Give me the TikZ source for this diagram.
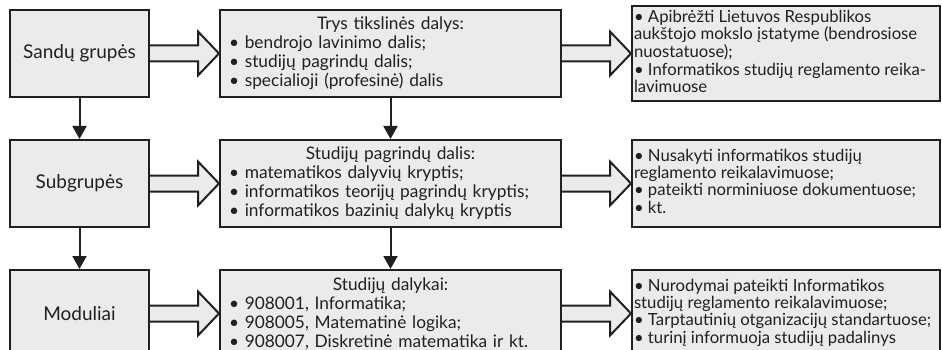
\documentclass[tikz,border=0pt]{standalone}
\usepackage{fontspec}
\setmainfont{Lato}
\usetikzlibrary{positioning,calc,arrows.meta}
\definecolor{boxfill}{HTML}{EBEBEB}
\definecolor{ink}{HTML}{231F20}
\newcommand{\parthead}[1]{\makebox[\linewidth]{#1}}
% note text: lines kept unbroken, set flush left, raised by #1
\newcommand{\notelines}[2][0pt]{\raisebox{#1}{\makebox[304pt][l]{%
			\begin{tabular}{@{}l@{}}#2\end{tabular}}}}

\begin{document}
\begin{tikzpicture}[
		x = 1pt, y = -1pt,
		> = {Triangle[length=13pt,width=14pt]}, % arrow head style
		line width = 2pt,
		color = ink,
		node distance = 41pt and 69pt, % rows and columns
		grp/.style = {draw, fill=boxfill, minimum width=139pt, minimum height=87pt,
			inner sep=0pt, font=\fontsize{19}{23}\selectfont},
		part/.style = {draw, fill=boxfill, text width=323pt, inner xsep=9pt,
			minimum height=87pt, align=left, font=\fontsize{17.3}{19}\selectfont},
		note/.style = {draw, fill=boxfill, minimum width=308pt, inner xsep=2pt,
			minimum height=87pt, font=\fontsize{16.7}{16.5}\selectfont},
		blockarrow/.style = {fill=boxfill, line join=miter, to path={
				($(\tikztostart)+(0,-8)$) -- ($(\tikztotarget)+(-21,-8)$)
				-- ($(\tikztotarget)+(-21,-22)$) -- (\tikztotarget)
				-- ($(\tikztotarget)+(-21,22)$) -- ($(\tikztotarget)+(-21,8)$)
				-- ($(\tikztostart)+(0,8)$)}}
		]
		\useasboundingbox (0,0) rectangle (942,350);
		
		\node[grp] (sandu) at (79.5,53.5) {Sandų grupės};
		\node[part] (trys) [right=of sandu] {\parthead{Trys tikslinės dalys:}\\
			• bendrojo lavinimo dalis;\\
			• studijų pagrindų dalis;\\
			• specialioji (profesinė) dalis};
		\node[note] (apib) [right=of trys] {\notelines[-1pt]{• Apibrėžti Lietuvos Respublikos\\
				aukštojo mokslo įstatyme (bendrosiose\\
				nuostatuose);\\
				• Informatikos studijų reglamento reika-\\
				lavimuose}};
		
		\node[grp] (subg) [below=of sandu] {Subgrupės};
		\node[part] (pagr) [right=of subg] {\parthead{Studijų pagrindų dalis:}\\
			• matematikos dalyvių kryptis;\\
			• informatikos teorijų pagrindų kryptis;\\
			• informatikos bazinių dalykų kryptis};
		\node[note] (nusak) [right=of pagr] {\notelines[6pt]{• Nusakyti informatikos studijų\\
				reglamento reikalavimuose;\\
				• pateikti norminiuose dokumentuose;\\
				• kt.}};
		
		\node[grp] (modul) [below=of subg] {Moduliai};
		\node[part] (dalyk) [right=of modul] {\parthead{Studijų dalykai:}\\
			• 908001, Informatika;\\
			• 908005, Matematinė logika;\\
			• 908007, Diskretinė matematika ir kt.};
		\node[note] (nurod) [right=of dalyk] {\notelines[12pt]{• Nurodymai pateikti Informatikos\\
				studijų reglamento reikalavimuose;\\
				• Tarptautinių otganizacijų standartuose;\\
				• turinį informuoja studijų padalinys}};
		
		\path[draw, blockarrow]
		(sandu.east) to (trys.west)
		(trys.east) to (apib.west)
		(subg.east) to (pagr.west)
		(pagr.east) to (nusak.west)
		(modul.east) to (dalyk.west)
		(dalyk.east) to (nurod.west);
		
		\path[->]
		(sandu) edge (subg)
		(subg) edge (modul)
		(trys) edge (pagr)
		(pagr) edge (dalyk);
	\end{tikzpicture}
\end{document}
